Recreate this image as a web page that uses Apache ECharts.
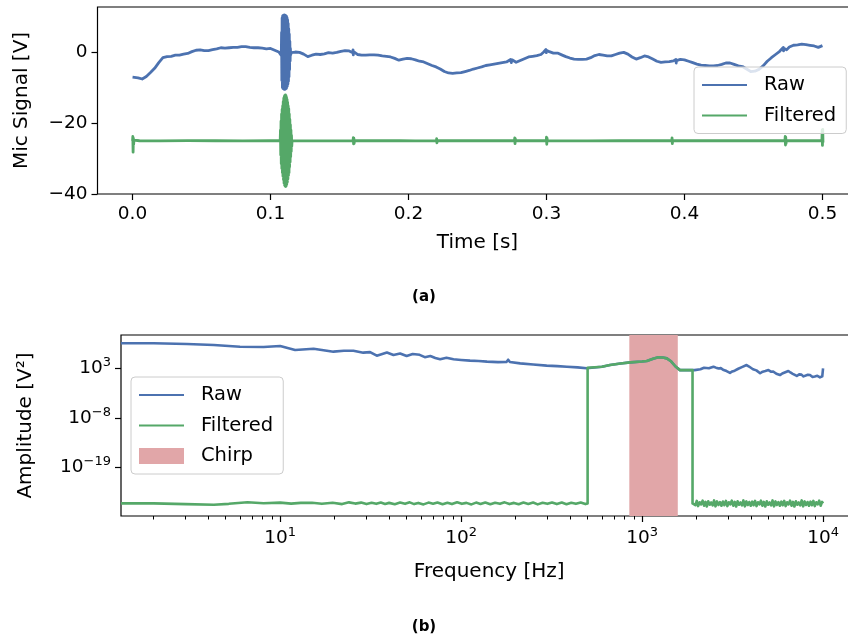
<!DOCTYPE html>
<html>
<head>
<meta charset="utf-8">
<script src="https://cdn.jsdelivr.net/npm/echarts@6/dist/echarts.min.js"></script>
<style>
  html, body { margin: 0; padding: 0; background: #ffffff; }
  #chart { width: 848px; height: 640px; }
</style>
</head>
<body>
<div id="chart"></div>
<script>
// ---- (a) microphone signal in the time domain ----
const rawTime = [
  0.000, 0.004, 0.007, 0.010, 0.013, 0.016, 0.019, 0.022, 0.025, 0.028, 0.031, 0.034, 0.037, 0.040,
  0.043, 0.046, 0.049, 0.052, 0.055, 0.058, 0.061, 0.064, 0.067, 0.070, 0.073, 0.076, 0.079, 0.082,
  0.085, 0.088, 0.091, 0.094, 0.097, 0.100, 0.103, 0.106, 0.107,
  0.1078, 0.1080, 0.1082, 0.1084, 0.1086, 0.1088, 0.1090, 0.1092, 0.1094, 0.1096, 0.1098, 0.1100,
  0.1102, 0.1104, 0.1106, 0.1108, 0.1110, 0.1112, 0.1114, 0.1116, 0.1118, 0.1120, 0.1122, 0.1124,
  0.1126, 0.1128, 0.1130, 0.1132, 0.1134, 0.1136, 0.1138, 0.1140, 0.1142, 0.1144, 0.1146,
  0.115, 0.118, 0.121, 0.124, 0.127, 0.130, 0.133, 0.136, 0.139, 0.142, 0.145, 0.148, 0.151, 0.154,
  0.157, 0.1596, 0.1598, 0.1600, 0.1602, 0.163, 0.166, 0.169, 0.172, 0.175, 0.178, 0.181, 0.184,
  0.187, 0.190, 0.193, 0.196, 0.199, 0.202, 0.205, 0.208, 0.211, 0.214, 0.217, 0.220, 0.223, 0.226,
  0.229, 0.232, 0.235, 0.238, 0.241, 0.244, 0.247, 0.250, 0.253, 0.256, 0.259, 0.262, 0.265, 0.268,
  0.271, 0.2740, 0.2745, 0.2750, 0.276, 0.278, 0.281, 0.284, 0.287, 0.290, 0.293, 0.296, 0.298,
  0.2996, 0.2998, 0.3000, 0.302, 0.305, 0.308, 0.311, 0.314, 0.317, 0.320, 0.323, 0.326, 0.329,
  0.332, 0.335, 0.338, 0.341, 0.344, 0.347, 0.350, 0.353, 0.356, 0.359, 0.362, 0.365, 0.368, 0.371,
  0.374, 0.377, 0.380, 0.383, 0.386, 0.389, 0.392, 0.3938, 0.3940, 0.3942, 0.397, 0.400, 0.403,
  0.406, 0.409, 0.412, 0.415, 0.418, 0.421, 0.424, 0.427, 0.430, 0.433, 0.436, 0.439, 0.442, 0.445,
  0.448, 0.451, 0.454, 0.457, 0.460, 0.463, 0.466, 0.469, 0.4716, 0.4718, 0.4720, 0.474, 0.476,
  0.479, 0.482, 0.485, 0.488, 0.491, 0.494, 0.497, 0.500
];
const rawVolt = [
  -7.1, -7.3, -7.6, -6.9, -5.8, -4.6, -3.0, -1.6, -1.3, -1.2, -0.9, -0.9, -0.6, -0.4,
  0.1, 0.5, 0.6, 0.4, 0.4, 0.7, 0.9, 1.2, 1.1, 1.2, 1.3, 1.3, 1.5, 1.5,
  1.3, 1.2, 1.2, 1.1, 0.9, 1.0, 0.5, 0.0, -0.1,
  -1.0, 5.5, -8.0, 9.6, -10.0, 10.2, -10.3, 10.3, -10.4, 10.4, -10.5, 10.4,
  -10.5, 10.4, -10.5, 10.3, -10.4, 10.2, -10.3, 10.0, -10.0, 9.6, -9.6, 9.0,
  -9.0, 8.0, -8.2, 6.5, -7.0, 5.0, -5.0, 3.0, -2.5, 1.0, -0.8,
  -0.2, 0.0, -0.1, -0.6, -1.3, -0.9, -0.6, -0.7, -0.5, -0.2, -0.3, -0.1, 0.2, 0.4,
  0.3, -0.2, 0.6, -0.8, 0.1, -0.7, -0.9, -0.9, -0.8, -0.8, -0.9, -1.1, -1.2,
  -1.4, -1.8, -2.3, -2.0, -1.8, -1.9, -2.2, -2.6, -2.8, -3.3, -3.8, -4.2, -4.8, -5.5,
  -5.9, -6.0, -5.9, -5.8, -5.5, -5.2, -4.8, -4.5, -4.2, -3.8, -3.6, -3.4, -3.2, -3.0,
  -2.8, -2.1, -3.0, -2.2, -2.6, -2.9, -2.4, -1.9, -1.4, -1.2, -1.0, -0.7, 0.0,
  0.7, -0.2, 0.5, 0.1, -0.3, -0.3, -0.8, -1.3, -1.7, -2.0, -2.1, -2.1, -2.0,
  -1.6, -1.0, -0.7, -0.9, -1.1, -1.1, -0.7, -0.3, -0.1, -0.6, -1.4, -2.0, -1.6, -1.1,
  -1.4, -2.0, -2.6, -2.9, -2.8, -2.7, -2.5, -2.1, -3.1, -2.4, -2.1, -2.2, -2.6,
  -3.0, -3.4, -3.7, -3.8, -3.9, -3.9, -3.8, -3.5, -3.1, -3.1, -3.5, -3.9, -4.1, -4.8,
  -5.5, -5.4, -4.9, -3.9, -2.6, -1.6, -0.7, 0.2, 1.3, 0.3, 1.1, 0.6, 1.4,
  1.9, 2.0, 2.2, 2.1, 1.9, 1.7, 1.3, 1.8
];

const filtTime = [
  0.0000, 0.0002, 0.0004, 0.0006, 0.0008, 0.0010, 0.0013, 0.005, 0.020, 0.040, 0.060, 0.080, 0.100, 0.1070,
  0.1072, 0.1074, 0.1076, 0.1078, 0.1080, 0.1082, 0.1084, 0.1086, 0.1088, 0.1090, 0.1092, 0.1094,
  0.1096, 0.1098, 0.1100, 0.1102, 0.1104, 0.1106, 0.1108, 0.1110, 0.1112, 0.1114, 0.1116, 0.1118,
  0.1120, 0.1122, 0.1124, 0.1126, 0.1128, 0.1130, 0.1132, 0.1134, 0.1136, 0.1138, 0.1140, 0.1142,
  0.1144, 0.1146, 0.1148, 0.1150, 0.1152, 0.1154, 0.1156,
  0.117, 0.135, 0.1598, 0.1600, 0.1602, 0.1604, 0.1606, 0.1608, 0.175,
  0.1938, 0.1940, 0.1942, 0.1944, 0.205, 0.2202, 0.2204, 0.2206, 0.2208, 0.250,
  0.2768, 0.2770, 0.2772, 0.2774, 0.2776, 0.2998, 0.3000, 0.3002, 0.3004, 0.3006, 0.330,
  0.3528, 0.3530, 0.3532, 0.3534, 0.3908, 0.3910, 0.3912, 0.3914, 0.430,
  0.4728, 0.4730, 0.4732, 0.4734, 0.4736, 0.4738, 0.4996, 0.4998, 0.5000, 0.5002, 0.5004
];
const filtVolt = [
  -25.0, -23.8, -28.2, -24.3, -26.0, -24.8, -25.2, -25.0, -25.05, -24.95, -25.0, -25.05, -25.0, -25.0,
  -22.0, -29.0, -19.5, -31.5, -17.5, -32.8, -16.2, -34.0, -15.2, -35.0, -14.0, -36.0,
  -13.0, -37.0, -12.5, -37.5, -12.2, -37.8, -12.1, -37.9, -12.3, -37.7, -12.8, -37.2,
  -13.4, -36.6, -14.2, -35.8, -15.2, -34.8, -16.0, -34.0, -17.5, -32.5, -19.0, -31.0,
  -20.5, -29.5, -22.0, -28.0, -23.5, -26.5, -25.0,
  -25.0, -25.05, -25.0, -24.1, -25.9, -24.3, -25.7, -25.0, -25.0,
  -25.0, -24.5, -25.5, -25.0, -25.05, -25.0, -24.4, -25.6, -25.0, -25.0,
  -25.0, -24.2, -25.8, -24.4, -25.0, -25.0, -24.0, -26.0, -24.3, -25.0, -25.05,
  -25.0, -24.5, -25.5, -25.0, -25.0, -24.2, -25.8, -25.0, -25.0,
  -25.0, -23.8, -26.2, -24.0, -25.8, -25.0, -25.0, -22.0, -26.3, -21.8, -25.5
];

const timeTicks = [0, 0.1, 0.2, 0.3, 0.4, 0.5];
const voltTicks = [-40, -20, 0];

// ---- (b) power spectrum ----
const rawFreq = [
  1.32, 2.0, 3.05, 4.3, 6.0, 8.1, 10, 12.1, 15.3, 19.7, 22.5, 25.4, 28.8, 31.4, 34.2, 38.9, 42.3,
  46, 50, 54, 59, 63, 67.6, 72, 76.6, 83, 90.8, 100, 112, 125, 139, 160, 178, 182, 186, 212, 250,
  297, 340, 384, 440, 494,
  505, 600, 665, 760, 860, 1000, 1062, 1150, 1230, 1300, 1370, 1450, 1530, 1620, 1800, 1900,
  1950, 2000, 2100, 2200, 2340, 2480, 2560, 2650, 2720, 2800, 2930, 3060, 3150, 3250, 3330, 3400,
  3560, 3780, 3900, 4100, 4280, 4490, 4640, 4800, 4990, 5150, 5300, 5520, 5780, 5950, 6100, 6430,
  6600, 6800, 6980, 7160, 7380, 7600, 7800, 8000, 8240, 8470, 8750, 9000, 9300, 9620, 9900, 9990, 10000
];
const rawPower = [
  3.6e8, 3.6e8, 2.5e8, 1.5e8, 6.3e7, 5.4e7, 9.1e7, 1.2e7, 2.3e7, 5.0e6, 8.0e6, 7.9e6, 3.0e6, 4.0e6, 6.3e5, 3.2e6, 9.1e5,
  2.0e6, 5.4e5, 1.5e6, 1.0e6, 3.0e5, 5.4e5, 2.0e5, 1.0e5, 2.2e5, 1.0e5, 7.0e4, 5.0e4, 4.2e4, 3.0e4, 2.4e4, 2.5e4, 8.0e4, 2.5e4, 1.26e4, 7.0e3,
  4.0e3, 3.0e3, 2.3e3, 1.6e3, 1.0e3,
  1.35e3, 2.2e3, 5.4e3, 1.2e4, 2.1e4, 3.2e4, 4.2e4, 1.3e5, 2.8e5, 2.5e5, 1.6e5, 3.2e4, 2.5e3, 4.0e2, 4.2e2, 4.0e2,
  4.0e2, 8.0e2, 6.0e2, 1.3e3, 1.0e3, 2.3e3, 1.4e3, 9.0e2, 1.1e3, 5.0e2, 2.5e2, 1.0e2, 2.0e2, 3.0e2, 2.0e2, 8.0e2,
  1.8e3, 5.4e3, 2.5e3, 6.3e2, 3.5e2, 8.0e1, 1.8e2, 2.5e2, 4.0e2, 1.8e2, 2.0e2, 6.0e1, 3.2e1, 7.0e1, 1.0e2, 2.5e2,
  1.2e2, 6.0e1, 3.5e1, 2.0e1, 4.5e1, 4.0e1, 1.6e1, 2.0e1, 3.8e1, 3.2e1, 1.2e1, 1.5e1, 2.2e1, 1.0e1, 1.6e1, 1.0e1, 1.0e3
];

const filtFreq = [
  1.32, 2.0, 3.0, 4.3, 5.2, 6.6, 8.1, 10, 11.5, 13, 15, 17, 19.5, 22, 24, 26, 28,
  30, 32, 34, 36, 38, 40, 43, 46, 49, 52, 55, 58, 62, 66, 70, 74, 79, 84, 89, 95, 101, 107, 114,
  121, 128, 136, 145, 154, 164, 174, 185, 196, 208, 221, 235, 250, 265, 282, 300, 318, 338, 360,
  382, 406, 431, 458, 486, 500,
  500, 600, 665, 760, 860, 1000, 1062, 1150, 1230, 1300, 1370, 1450, 1530, 1620, 1800, 1900,
  1900, 1935, 1970, 2005, 2040, 2080, 2120, 2160, 2200, 2240, 2280, 2320, 2365, 2410, 2455, 2500,
  2545, 2595, 2645, 2695, 2745, 2795, 2850, 2905, 2960, 3015, 3070, 3130, 3190, 3250, 3310, 3370,
  3435, 3500, 3565, 3630, 3700, 3770, 3840, 3910, 3985, 4060, 4135, 4210, 4290, 4370, 4450, 4535,
  4620, 4705, 4795, 4885, 4975, 5070, 5165, 5260, 5360, 5460, 5560, 5665, 5770, 5880, 5990, 6100,
  6215, 6330, 6450, 6570, 6695, 6820, 6945, 7075, 7210, 7345, 7480, 7620, 7765, 7910, 8060, 8210,
  8360, 8520, 8680, 8840, 9005, 9175, 9345, 9520, 9700, 9880, 10000
];
const filtPower = [
  1.0e-27, 1.0e-27, 7.0e-28, 5.0e-28, 8.0e-28, 1.8e-27, 1.1e-27, 1.5e-27, 9.0e-28, 1.3e-27, 1.4e-27, 8.0e-28, 1.4e-27, 7.0e-28, 1.7e-27, 9.0e-28, 1.5e-27,
  7.0e-28, 1.4e-27, 8.0e-28, 1.6e-27, 7.5e-28, 1.3e-27, 6.5e-28, 1.5e-27, 8.0e-28, 1.7e-27, 7.0e-28, 1.3e-27, 6.0e-28, 1.5e-27, 8.5e-28, 1.6e-27, 6.5e-28, 1.4e-27, 7.0e-28, 1.7e-27, 8.0e-28, 1.3e-27, 6.0e-28,
  1.5e-27, 7.5e-28, 1.6e-27, 6.5e-28, 1.4e-27, 8.0e-28, 1.7e-27, 7.0e-28, 1.3e-27, 6.5e-28, 1.5e-27, 7.5e-28, 1.6e-27, 6.0e-28, 1.4e-27, 8.0e-28, 1.6e-27, 7.0e-28, 1.5e-27,
  6.5e-28, 1.4e-27, 8.0e-28, 1.6e-27, 7.0e-28, 1.0e-27,
  1.35e3, 2.2e3, 5.4e3, 1.2e4, 2.1e4, 3.2e4, 4.2e4, 1.3e5, 2.8e5, 2.5e5, 1.6e5, 3.2e4, 2.5e3, 4.0e2, 4.2e2, 4.0e2,
  1.0e-27, 2.5e-27, 4.0e-28, 3.5e-27, 2.5e-28, 1.8e-27, 6.0e-28, 4.0e-27, 3.0e-28, 2.2e-27, 2.0e-28, 3.0e-27, 5.0e-28, 1.6e-27, 3.5e-28, 4.5e-27,
  2.2e-28, 2.8e-27, 4.5e-28, 2.0e-27, 3.0e-28, 2.5e-27, 4.0e-28, 3.5e-27, 2.5e-28, 1.8e-27, 6.0e-28, 4.0e-27, 3.0e-28, 2.2e-27, 2.0e-28, 3.0e-27,
  5.0e-28, 1.6e-27, 3.5e-28, 4.5e-27, 2.2e-28, 2.8e-27, 4.5e-28, 2.0e-27, 3.0e-28, 2.5e-27, 4.0e-28, 3.5e-27, 2.5e-28, 1.8e-27, 6.0e-28, 4.0e-27,
  3.0e-28, 2.2e-27, 2.0e-28, 3.0e-27, 5.0e-28, 1.6e-27, 3.5e-28, 4.5e-27, 2.2e-28, 2.8e-27, 4.5e-28, 2.0e-27, 3.0e-28, 2.5e-27, 4.0e-28, 3.5e-27,
  2.5e-28, 1.8e-27, 6.0e-28, 4.0e-27, 3.0e-28, 2.2e-27, 2.0e-28, 3.0e-27, 5.0e-28, 1.6e-27, 3.5e-28, 4.5e-27, 2.2e-28, 2.8e-27, 4.5e-28, 2.0e-27,
  3.0e-28, 2.5e-27, 4.0e-28, 3.5e-27, 2.5e-28, 1.8e-27, 6.0e-28, 4.0e-27, 3.0e-28, 2.2e-27, 1.0e-27
];

const chirpBand = [850, 1575];
const freqTicks = [10, 100, 1000, 10000];
const freqMinorTicks = [
  2, 3, 4, 5, 6, 7, 8, 9, 20, 30, 40, 50, 60, 70, 80, 90, 200, 300, 400, 500, 600, 700, 800, 900,
  2000, 3000, 4000, 5000, 6000, 7000, 8000, 9000
];
const powerTicks = [1e-19, 1e-8, 1e3];

// ---- styling ----
const FONT = 'DejaVu Sans';
const INK = '#000000';
const BLUE = '#4c72b0';
const GREEN = '#55a868';
const CHIRP = '#e1a6a8';

const pairs = (xs, ys) => xs.map((x, i) => [x, ys[i]]);
const minus = (s) => String(s).replace('-', '\u2212');
function powerOfTen(v) {
  const e = Math.round(Math.log10(v));
  return '10{sup|' + minus(e) + '}';
}
const supRich = { sup: { fontSize: 13, fontFamily: FONT, color: INK, padding: [0, 0, 11, 0] } };

const labelBase = { fontFamily: FONT, fontSize: 18.5, color: INK };
const nameBase = { fontFamily: FONT, fontSize: 20, color: INK };
const tickLine = { color: INK, width: 1.2 };
const gridFrame = { show: true, borderColor: INK, borderWidth: 1.2, backgroundColor: 'transparent', containLabel: false, outerBoundsMode: 'none' };
const legendBox = {
  orient: 'vertical', itemWidth: 45, itemHeight: 16, itemGap: 10.5,
  padding: [8, 10, 8, 7], borderColor: '#cccccc', borderWidth: 1, borderRadius: 4,
  backgroundColor: 'rgba(255,255,255,0.8)',
  textStyle: { fontFamily: FONT, fontSize: 19.5, color: INK, lineHeight: 20, padding: [0, 0, 0, 12] },
  selectedMode: false
};
// line entries show only the stroke, no marker dot
const lineEntry = (name) => ({ name, itemStyle: { opacity: 0 } });
const lineSeries = (name, color, xi, data, width) => ({
  name, type: 'line', xAxisIndex: xi, yAxisIndex: xi, data,
  symbol: 'none', showSymbol: false, color, z: 2,
  lineStyle: { color, width, join: 'round' }, emphasis: { disabled: true }
});

const chart = echarts.init(document.getElementById('chart'), null, { renderer: 'canvas' });
chart.setOption({
  animation: false,
  backgroundColor: '#ffffff',
  title: [
    { text: '(a)', left: 'center', top: 290, padding: 0, textStyle: { fontFamily: FONT, fontSize: 15, fontWeight: 'bold', color: INK } },
    { text: '(b)', left: 'center', top: 620, padding: 0, textStyle: { fontFamily: FONT, fontSize: 15, fontWeight: 'bold', color: INK } }
  ],
  grid: [
    Object.assign({ left: 97.5, top: 7, width: 760, height: 187 }, gridFrame),
    Object.assign({ left: 121, top: 335, width: 736.5, height: 181 }, gridFrame)
  ],
  xAxis: [
    {
      type: 'value', gridIndex: 0, min: -0.0254, max: 0.5254,
      axisLine: { show: false, onZero: false },
      axisTick: { customValues: timeTicks, length: 6, lineStyle: tickLine },
      axisLabel: Object.assign({ customValues: timeTicks, margin: 11, formatter: (v) => v.toFixed(1) }, labelBase),
      splitLine: { show: false },
      name: 'Time [s]', nameLocation: 'middle', nameGap: 39, nameTextStyle: nameBase
    },
    {
      type: 'log', logBase: 10, gridIndex: 1, min: 1.32, max: 15500, position: 'bottom',
      axisLine: { show: false, onZero: false },
      axisTick: { customValues: freqTicks, length: 6, lineStyle: tickLine },
      axisLabel: Object.assign({ customValues: freqTicks, margin: 10, formatter: powerOfTen, rich: supRich }, labelBase),
      splitLine: { show: false }, minorTick: { show: false },
      name: 'Frequency [Hz]', nameLocation: 'middle', nameGap: 46, nameTextStyle: nameBase
    },
    {
      type: 'log', logBase: 10, gridIndex: 1, min: 1.32, max: 15500, position: 'bottom',
      axisLine: { show: false, onZero: false },
      axisTick: { customValues: freqMinorTicks, length: 3.5, lineStyle: { color: INK, width: 1 } },
      axisLabel: { show: false }, splitLine: { show: false }
    }
  ],
  yAxis: [
    {
      type: 'value', gridIndex: 0, min: -40, max: 12.68,
      axisLine: { show: false, onZero: false },
      axisTick: { customValues: voltTicks, length: 6, lineStyle: tickLine },
      axisLabel: Object.assign({ customValues: voltTicks, margin: 10, formatter: (v) => minus(v) }, labelBase),
      splitLine: { show: false },
      name: 'Mic Signal [V]', nameLocation: 'middle', nameGap: 66, nameTextStyle: nameBase
    },
    {
      type: 'log', logBase: 10, gridIndex: 1, min: 1.585e-30, max: 2.51e10,
      axisLine: { show: false, onZero: false },
      axisTick: { customValues: powerTicks, length: 6, lineStyle: tickLine },
      axisLabel: Object.assign({ customValues: powerTicks, margin: 10, formatter: powerOfTen, rich: supRich }, labelBase),
      splitLine: { show: false }, minorTick: { show: false },
      name: 'Amplitude [V\u00b2]', nameLocation: 'middle', nameGap: 85, nameTextStyle: nameBase
    }
  ],
  legend: [
    Object.assign({ left: 694, top: 67, data: [lineEntry('Raw'), lineEntry('Filtered')] }, legendBox),
    Object.assign({ left: 131, top: 377, data: [lineEntry('Raw'), lineEntry('Filtered'), { name: 'Chirp', icon: 'rect', itemStyle: { color: CHIRP, opacity: 1 } }] }, legendBox)
  ],
  series: [
    {
      name: 'Chirp', type: 'line', xAxisIndex: 1, yAxisIndex: 1, data: [], color: CHIRP, z: 1,
      symbol: 'none', itemStyle: { color: CHIRP },
      markArea: { silent: true, z: 1, itemStyle: { color: CHIRP, opacity: 1 }, data: [[{ xAxis: chirpBand[0] }, { xAxis: chirpBand[1] }]] }
    },
    lineSeries('Raw', BLUE, 0, pairs(rawTime, rawVolt), 2.8),
    lineSeries('Filtered', GREEN, 0, pairs(filtTime, filtVolt), 2.8),
    lineSeries('Raw', BLUE, 1, pairs(rawFreq, rawPower), 2.6),
    lineSeries('Filtered', GREEN, 1, pairs(filtFreq, filtPower), 2.6)
  ]
});
</script>
</body>
</html>
